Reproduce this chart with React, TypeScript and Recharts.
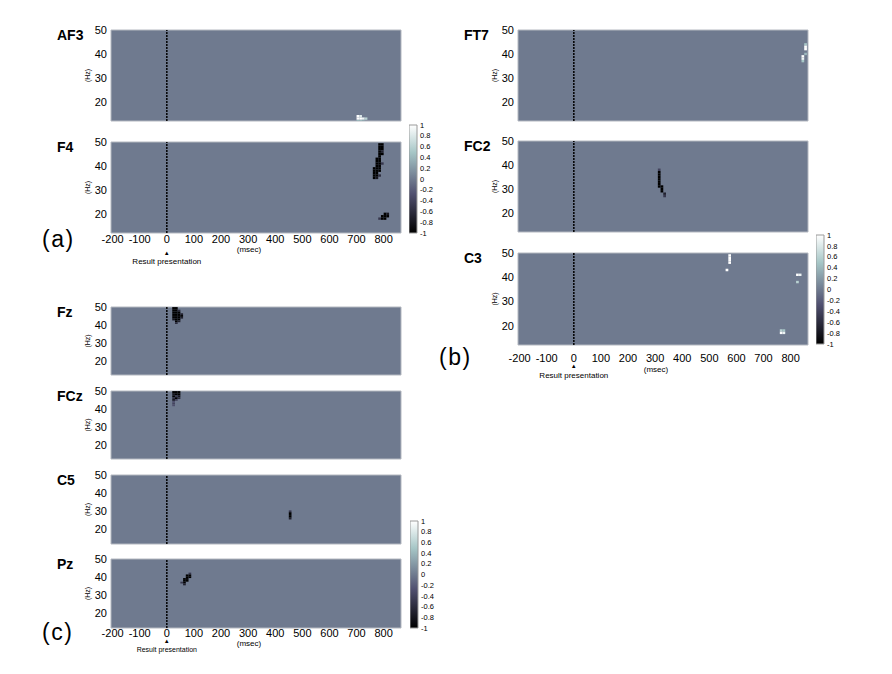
import React from 'react';
import { ComposedChart, XAxis, YAxis, ReferenceArea, ReferenceLine } from 'recharts';

// each cell: [msec, Hz, value]
type Cell = [number, number, number];

const timeTicks = [-200, -100, 0, 100, 200, 300, 400, 500, 600, 700, 800];
const freqTicks = [15, 20, 25, 30, 35, 40, 45, 50];
const barTicks = [1, 0.8, 0.6, 0.4, 0.2, 0, -0.2, -0.4, -0.6, -0.8, -1];
const timeRange = [-206, 864];
const freqRange = [12, 50];

// bone colormap, value -> rgb
const boneStops: [number, number[]][] = [
  [-1, [0, 0, 0]],
  [-0.27, [81, 81, 113]],
  [0.492, [166, 198, 198]],
  [1, [255, 255, 255]],
];

const af3: Cell[] = [
  [705, 14, 1], [715, 14, 0.8], [705, 13, 1], [715, 13, 1], [725, 13, 0.9], [735, 13, 0.6],
  [705, 12, 0.4], [715, 12, 0.4], [725, 12, 0.3],
];
const f4: Cell[] = [
  [785, 49, -1], [795, 49, -1], [785, 48, -1], [795, 48, -1], [785, 47, -1], [795, 47, -1],
  [785, 46, -1], [795, 46, -0.7], [785, 45, -1], [795, 45, -1], [785, 44, -1],
  [775, 43, -1], [785, 43, -1], [775, 42, -1], [785, 42, -1], [775, 41, -1], [785, 41, -1], [795, 41, -0.5],
  [775, 40, -1], [785, 40, -1], [765, 39, -1], [775, 39, -1], [785, 39, -1],
  [765, 38, -1], [775, 38, -1], [785, 38, -1], [765, 37, -1], [775, 37, -1],
  [765, 36, -1], [775, 36, -1], [785, 36, -0.6], [765, 35, -1], [775, 35, -0.8],
  [805, 20, -1], [815, 20, -0.8], [795, 19, -1], [805, 19, -1], [815, 19, -1],
  [785, 18, -0.5], [795, 18, -1], [805, 18, -1],
];
const ft7: Cell[] = [
  [855, 44, 0.5], [855, 43, 1], [855, 42, 1], [855, 40, 0.4], [845, 39, 1], [845, 38, 0.9], [845, 37, 0.5],
];
const fc2: Cell[] = [
  [315, 38, -0.4], [315, 37, -1], [315, 36, -1], [315, 35, -1], [315, 34, -1], [315, 33, -1],
  [315, 32, -1], [315, 31, -1], [325, 31, -1], [325, 30, -1], [325, 29, -1], [335, 28, -0.7], [335, 27, -0.5],
];
const c3: Cell[] = [
  [575, 49, 1], [575, 48, 1], [575, 47, 1], [575, 46, 1], [565, 43, 1],
  [825, 41, 1], [835, 41, 0.9], [825, 38, 0.6],
  [765, 18, 0.6], [775, 18, 0.5], [765, 17, 1], [775, 17, 0.9],
];
const fz: Cell[] = [
  [25, 50, -1], [35, 50, -1], [25, 49, -1], [35, 49, -1],
  [25, 48, -1], [35, 48, -1], [45, 48, -0.6], [25, 47, -1], [35, 47, -1], [45, 47, -1],
  [25, 46, -1], [35, 46, -1], [45, 46, -1], [55, 46, -0.7], [25, 45, -1], [35, 45, -1], [45, 45, -1], [55, 45, -1],
  [25, 44, -1], [35, 44, -1], [45, 44, -1], [55, 44, -0.7],
  [25, 43, -0.8], [35, 43, -1], [45, 43, -1], [35, 42, -1], [45, 42, -0.7], [35, 41, -0.6],
];
const fcz: Cell[] = [
  [25, 50, -1], [35, 50, -1], [45, 50, -1], [25, 49, -1], [35, 49, -1], [45, 49, -1],
  [25, 48, -0.8], [35, 48, -1], [45, 48, -1], [25, 47, -1], [35, 47, -0.5], [45, 47, -0.8],
  [25, 46, -0.6], [35, 46, -1], [45, 46, -0.6], [25, 45, -0.8], [35, 45, -0.4],
  [25, 44, -0.3], [25, 43, -0.4], [25, 42, -0.3],
];
const c5: Cell[] = [
  [455, 30, -0.5], [455, 29, -1], [455, 28, -1], [455, 27, -1], [455, 26, -0.7],
];
const pz: Cell[] = [
  [85, 42, -0.5], [75, 41, -1], [85, 41, -1], [75, 40, -1], [85, 40, -1],
  [65, 39, -1], [75, 39, -1], [65, 38, -1], [75, 38, -1], [65, 37, -1], [55, 37, -0.5], [65, 36, -0.7],
];

function rgb(c: number[]) {
  return `rgb(${c.map((x) => Math.round(x)).join(',')})`;
}

function boneColor(v: number) {
  for (let i = 1; i < boneStops.length; i++) {
    const [v0, c0] = boneStops[i - 1];
    const [v1, c1] = boneStops[i];
    if (v <= v1) {
      const k = (v - v0) / (v1 - v0);
      return rgb(c0.map((x, j) => x + (c1[j] - x) * k));
    }
  }
  return rgb(boneStops[boneStops.length - 1][1]);
}

const font = 'Arial, "Liberation Sans", Helvetica, sans-serif';
const PW = 290;
const YW = 46;
const PAD = 7;

type PanelProps = {
  name: string;
  cells: Cell[];
  left: number;
  top: number;
  h: number;
  axisGap?: number;
};

function Panel({ name, cells, left, top, h, axisGap }: PanelProps) {
  const axis = axisGap !== undefined;
  const bottomH = axis ? 22 : 0;
  return (
    <>
      <div style={{ position: 'absolute', left: left - 54, top: top - 3, fontSize: 14, fontWeight: 'bold' }}>{name}</div>
      <div style={{ position: 'absolute', left: left - YW, top: top - PAD }}>
        <ComposedChart width={PW + YW + 1} height={h + PAD * 2 + bottomH} margin={{ top: PAD, right: 1, bottom: PAD, left: 0 }}>
          <XAxis
            type="number"
            dataKey="t"
            domain={timeRange}
            ticks={timeTicks}
            allowDataOverflow
            hide={!axis}
            height={bottomH}
            axisLine={false}
            tickLine={false}
            tickSize={0}
            tickMargin={axisGap ?? 0}
            interval={0}
            tick={{ fontSize: 11, fill: '#000', fontFamily: font }}
          />
          <YAxis
            type="number"
            domain={freqRange}
            ticks={freqTicks}
            allowDataOverflow
            width={YW}
            axisLine={false}
            tickSize={0}
            tickMargin={4}
            tickLine={false}
            interval={0}
            tickFormatter={(v: number) => (v % 10 === 0 ? String(v) : '')}
            tick={{ fontSize: 11, fill: '#000', fontFamily: font }}
            label={{ value: '(Hz)', angle: -90, position: 'center', fontSize: 7, fill: '#000', fontFamily: font }}
          />
          <ReferenceArea
            x1={timeRange[0]}
            x2={timeRange[1]}
            y1={freqRange[0]}
            y2={freqRange[1]}
            fill={boneColor(0)}
            fillOpacity={1}
            stroke="#b4b8c0"
          />
          {cells.map(([t, f, v], i) => (
            <ReferenceArea
              key={i}
              x1={t - 5}
              x2={t + 5}
              y1={f - 0.5}
              y2={f + 0.5}
              fill={boneColor(v)}
              fillOpacity={1}
              stroke="none"
              ifOverflow="hidden"
            />
          ))}
          <ReferenceLine x={0} stroke="#000" strokeWidth={1.5} strokeDasharray="2 1" />
        </ComposedChart>
      </div>
    </>
  );
}

function ColorBar({ left, top, h, id }: { left: number; top: number; h: number; id: string }) {
  return (
    <div style={{ position: 'absolute', left, top: top - PAD }}>
      <ComposedChart width={8 + 30} height={h + PAD * 2} margin={{ top: PAD, right: 0, bottom: PAD, left: 0 }}>
        <defs>
          <linearGradient id={id} x1="0" y1="1" x2="0" y2="0">
            {boneStops.map(([v, c]) => (
              <stop key={v} offset={(v + 1) / 2} stopColor={rgb(c)} />
            ))}
          </linearGradient>
        </defs>
        <XAxis type="number" dataKey="x" domain={[0, 1]} allowDataOverflow hide />
        <YAxis
          type="number"
          orientation="right"
          domain={[-1, 1]}
          ticks={barTicks}
          allowDataOverflow
          width={30}
          axisLine={false}
          tickLine={false}
          tickSize={0}
          tickMargin={3}
          interval={0}
          tick={{ fontSize: 7.5, fill: '#000', fontFamily: font }}
        />
        <ReferenceArea x1={0} x2={1} y1={-1} y2={1} fill={`url(#${id})`} fillOpacity={1} stroke="#9a9a9a" />
      </ComposedChart>
    </div>
  );
}

function AxisNotes({ left, bottom, msecDy, arrowDy, resultDy, resultSize }: {
  left: number; bottom: number; msecDy: number; arrowDy: number; resultDy: number; resultSize: number;
}) {
  const zeroX = left + (0 - timeRange[0]) * PW / (timeRange[1] - timeRange[0]);
  const c = (x: number, y: number, size: number): React.CSSProperties => ({
    position: 'absolute', left: x - 60, top: y - size * 0.55, width: 120, textAlign: 'center', fontSize: size, lineHeight: `${size * 1.1}px`,
  });
  return (
    <>
      <div style={c(left + 138, bottom + msecDy, 8)}>(msec)</div>
      <div style={c(zeroX, bottom + arrowDy, 6)}>▲</div>
      <div style={c(zeroX, bottom + resultDy, resultSize)}>Result presentation</div>
    </>
  );
}

export default function App() {
  const big: React.CSSProperties = { position: 'absolute', fontSize: 23, letterSpacing: 1.5 };
  return (
    <div style={{ position: 'absolute', left: 0, top: 0, width: 892, height: 674, background: '#fff', fontFamily: font, color: '#000' }}>
      {/* (a) */}
      <Panel name="AF3" cells={af3} left={111} top={30} h={91} />
      <Panel name="F4" cells={f4} left={111} top={142} h={91} axisGap={2} />
      <ColorBar left={409} top={125} h={108} id="boneA" />
      <AxisNotes left={111} bottom={233} msecDy={17} arrowDy={20} resultDy={29} resultSize={8} />
      <div style={{ ...big, left: 42, top: 226 }}>(a)</div>

      {/* (b) */}
      <Panel name="FT7" cells={ft7} left={518} top={30} h={91} />
      <Panel name="FC2" cells={fc2} left={518} top={141} h={91} />
      <Panel name="C3" cells={c3} left={518} top={253} h={92} axisGap={9} />
      <ColorBar left={816} top={235} h={109} id="boneB" />
      <AxisNotes left={518} bottom={345} msecDy={25} arrowDy={21} resultDy={31} resultSize={8} />
      <div style={{ ...big, left: 439, top: 344 }}>(b)</div>

      {/* (c) */}
      <Panel name="Fz" cells={fz} left={111} top={307} h={68} />
      <Panel name="FCz" cells={fcz} left={111} top={391} h={68} />
      <Panel name="C5" cells={c5} left={111} top={475} h={69} />
      <Panel name="Pz" cells={pz} left={111} top={559} h={69} axisGap={1} />
      <ColorBar left={410} top={521} h={107} id="boneC" />
      <AxisNotes left={111} bottom={628} msecDy={16} arrowDy={13} resultDy={22} resultSize={7} />
      <div style={{ ...big, left: 42, top: 619 }}>(c)</div>
    </div>
  );
}
